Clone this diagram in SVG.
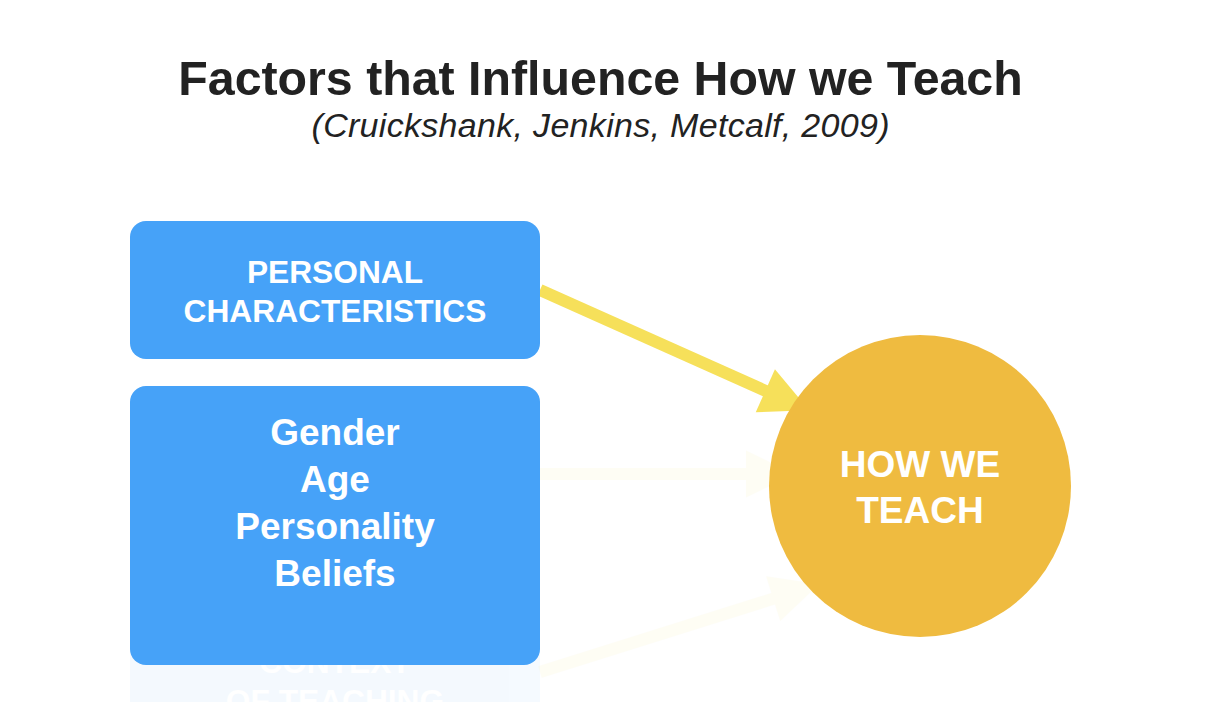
<svg xmlns="http://www.w3.org/2000/svg" width="1230" height="702" viewBox="0 0 1230 702">
<style>
.title{font-family:"Liberation Sans",Arial,sans-serif;font-weight:bold;font-size:48.3px;fill:#222222;text-anchor:middle}
.sub{font-family:"Liberation Sans",Arial,sans-serif;font-style:italic;font-size:34px;fill:#222222;text-anchor:middle}
.box{fill:#46a2f8}
.lbl{font-family:"Liberation Sans",Arial,sans-serif;font-weight:bold;fill:#ffffff;text-anchor:middle}
.arr{stroke:#f6e05a;stroke-width:12;fill:none}
</style>
<defs>
<marker id="head" markerUnits="userSpaceOnUse" markerWidth="50" markerHeight="48" refX="4" refY="23.5" orient="auto" overflow="visible">
<path d="M0,0 L48,23.5 L0,47 Z" fill="#f6e05a"/>
</marker>
</defs>
<text class="title" x="600.5" y="95">Factors that Influence How we Teach</text>
<text class="sub" x="600.5" y="137" textLength="578">(Cruickshank, Jenkins, Metcalf, 2009)</text>

<g id="context" opacity="0.055">
<rect class="box" x="130" y="622" width="410" height="140" rx="16"/>
<text class="lbl" font-size="31.7" x="335" y="673">CONTEXT</text>
<text class="lbl" font-size="31.7" x="335" y="712">OF TEACHING</text>
</g>

<g id="connectors">
<line class="arr" x1="540" y1="290" x2="769" y2="392.4" marker-end="url(#head)"/>
<g opacity="0.06">
<line class="arr" x1="540" y1="474" x2="750" y2="474" marker-end="url(#head)"/>
</g>
<g opacity="0.06">
<line class="arr" x1="540" y1="672" x2="777" y2="597.5" marker-end="url(#head)"/>
</g>
</g>

<g id="personal">
<rect class="box" x="130" y="221" width="410" height="138" rx="16"/>
<text class="lbl" font-size="31.7" x="335" y="283">PERSONAL</text>
<text class="lbl" font-size="31.7" x="335" y="322">CHARACTERISTICS</text>
</g>

<g id="traits">
<rect class="box" x="130" y="386" width="410" height="279" rx="16"/>
<text class="lbl" font-size="37" x="335" y="445">Gender</text>
<text class="lbl" font-size="37" x="335" y="492">Age</text>
<text class="lbl" font-size="37" x="335" y="539">Personality</text>
<text class="lbl" font-size="37" x="335" y="586">Beliefs</text>
</g>

<g id="how">
<circle cx="920" cy="486" r="151" fill="#efbb40"/>
<text class="lbl" font-size="37" x="920" y="477">HOW WE</text>
<text class="lbl" font-size="37" x="920" y="523">TEACH</text>
</g>
</svg>
